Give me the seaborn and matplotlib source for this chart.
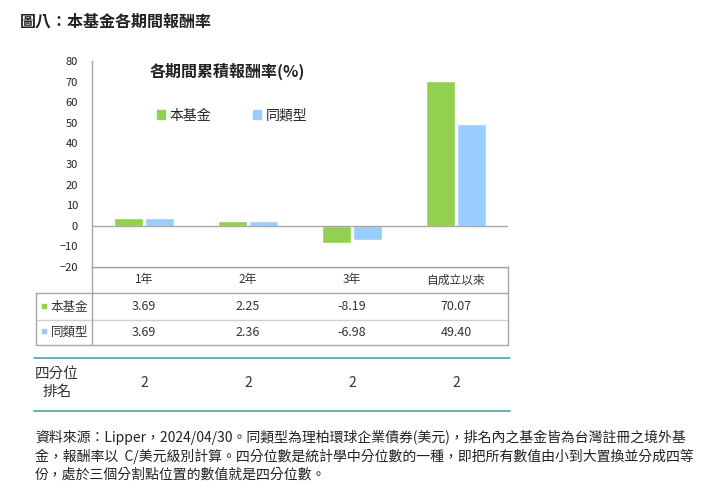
import matplotlib
matplotlib.use("Agg")
import matplotlib.pyplot as plt
import matplotlib.transforms as mtransforms
from matplotlib.patches import Patch
import numpy as np
import pandas as pd
import seaborn as sns

# data
periods = ["1年", "2年", "3年", "自成立以來"]
fund = [3.69, 2.25, -8.19, 70.07]
peer = [3.69, 2.36, -6.98, 49.40]
quartile = [2, 2, 2, 2]
series_names = ["本基金", "同類型"]
colors = ["#92D050", "#99CCFF"]

fig_title = "圖八：本基金各期間報酬率"
chart_title = "各期間累積報酬率(%)"
quartile_label = "四分位\n排名"
note = ("資料來源：Lipper，2024/04/30。同類型為理柏環球企業債券(美元)，排名內之基金皆為台灣註冊之境外基\n"
        "金，報酬率以  C/美元級別計算。四分位數是統計學中分位數的一種，即把所有數值由小到大置換並分成四等\n"
        "份，處於三個分割點位置的數值就是四分位數。")

df = pd.DataFrame({
    "period": periods * 2,
    "value": fund + peer,
    "series": [series_names[0]] * 4 + [series_names[1]] * 4,
})

sns.set_theme(style="white")
plt.rcParams["font.family"] = ["Noto Sans CJK TC", "DejaVu Sans"]

W, H = 725, 493
fig = plt.figure(figsize=(W / 100, H / 100), dpi=100)

# overlay in pixel coordinates (y downwards)
ov = fig.add_axes([0, 0, 1, 1])
ov.set_xlim(0, W)
ov.set_ylim(H, 0)
ov.axis("off")

x0, x1, ytop, ybot = 92, 508, 61, 267
ax = fig.add_axes([x0 / W, (H - ybot) / H, (x1 - x0) / W, (ybot - ytop) / H])
sns.barplot(data=df, x="period", y="value", hue="series", palette=colors,
            width=0.6, gap=0.06, saturation=1, ax=ax, legend=False)
ax.set_ylim(-20, 80)
ax.set_yticks(np.arange(-20, 81, 10))
ax.tick_params(axis="y", labelsize=8, colors="#222222", length=0, pad=10)
ax.set_xticks([])
ax.set_xlabel("")
ax.set_ylabel("")
ax.axhline(0, color="#A6A6A6", lw=1)
for s in ["top", "right"]:
    ax.spines[s].set_visible(False)
for s in ["left", "bottom"]:
    ax.spines[s].set_color("#A6A6A6")
    ax.spines[s].set_linewidth(1)
ax.set_xlim(-0.5, 3.5)

ax.text(0.325, 0.95, chart_title, transform=ax.transAxes, ha="center", va="center",
        fontsize=11.5, fontweight="bold", color="#222222")
handles = [Patch(color=c, label=n) for c, n in zip(colors, series_names)]
ax.legend(handles=handles, loc="center left", bbox_to_anchor=(0.125, 0.735),
          ncol=2, frameon=False, fontsize=10, handlelength=0.6, handleheight=0.6,
          handletextpad=0.35, columnspacing=3.0)

fig.text(20 / W, 1 - 22 / H, fig_title, ha="left", va="center", fontsize=11.5,
         fontweight="bold", color="#222222")

# table below the chart
fig.canvas.draw()
blend = mtransforms.blended_transform_factory(ax.transData, ov.transData)
grid = "#A6A6A6"
ov.plot([x0, x1], [ybot, ybot], color=grid, lw=1)
ov.plot([36, x1], [293, 293], color=grid, lw=1)
ov.plot([36, x1], [320, 320], color="#D0D0D0", lw=1)
ov.plot([36, x1], [345, 345], color=grid, lw=1)
ov.plot([36, 36], [293, 345], color=grid, lw=1)
ov.plot([x0, x0], [ybot, 345], color=grid, lw=1)
ov.plot([x1, x1], [ybot, 345], color=grid, lw=1)
ov.plot([34, 510], [358, 358], color="#4FA3A8", lw=1.2)
ov.plot([34, 510], [411, 411], color="#4FA3A8", lw=1.2)

for i, p in enumerate(periods):
    ov.text(i, 280, p, transform=blend, ha="center", va="center", fontsize=8.5, color="#333333")
    ov.text(i, 307, f"{fund[i]:.2f}", transform=blend, ha="center", va="center", fontsize=9, color="#333333")
    ov.text(i, 332, f"{peer[i]:.2f}", transform=blend, ha="center", va="center", fontsize=9, color="#333333")
    ov.text(i, 383, str(quartile[i]), transform=blend, ha="center", va="center", fontsize=10, color="#333333")

for yy, c, n in zip([307, 332], colors, series_names):
    ov.scatter([44], [yy - 1], marker="s", s=12, color=c)
    ov.text(51, yy, n, ha="left", va="center", fontsize=9, color="#333333")

ov.text(57, 383, quartile_label, ha="center", va="center", fontsize=10.5,
        color="#333333", linespacing=1.4)

ov.text(35, 456, note, ha="left", va="center", fontsize=10, color="#222222",
        linespacing=1.33)

fig.savefig("out.png", dpi=100)
